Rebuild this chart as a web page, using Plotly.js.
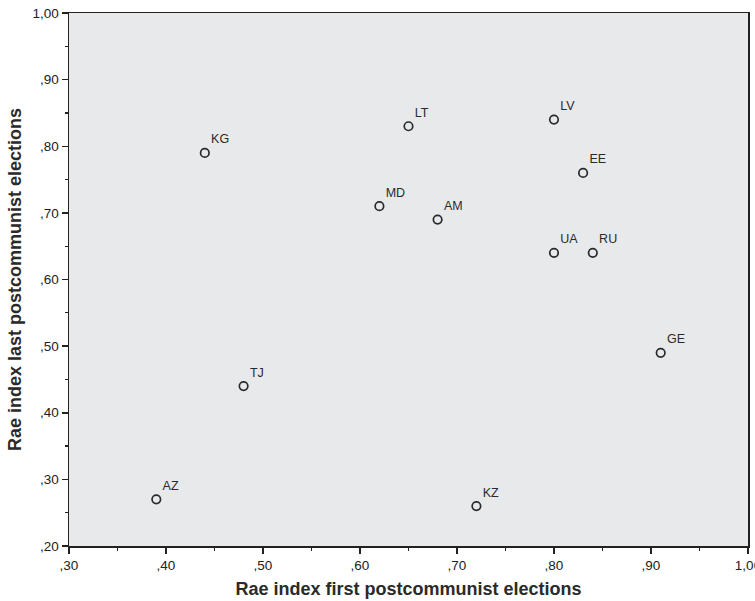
<!DOCTYPE html>
<html>
<head>
<meta charset="utf-8">
<script src="https://cdn.plot.ly/plotly-3.0.1.min.js"></script>
<style>html,body{margin:0;padding:0;background:#fff;}#chart{width:755px;height:601px;}</style>
</head>
<body>
<div id="chart"></div>
<script>
const countries = ["KG","LT","MD","AM","LV","EE","UA","RU","GE","TJ","AZ","KZ"];
const firstElections = [0.44,0.65,0.62,0.68,0.80,0.83,0.80,0.84,0.91,0.48,0.39,0.72];
const lastElections  = [0.79,0.83,0.71,0.69,0.84,0.76,0.64,0.64,0.49,0.44,0.27,0.26];
const xTickVals = [0.30,0.40,0.50,0.60,0.70,0.80,0.90,1.00];
const xTickText = [",30",",40",",50",",60",",70",",80",",90","1,00"];
const yTickVals = [0.20,0.30,0.40,0.50,0.60,0.70,0.80,0.90,1.00];
const yTickText = [",20",",30",",40",",50",",60",",70",",80",",90","1,00"];
const xMinor = [0.35,0.45,0.55,0.65,0.75,0.85,0.95];
const yMinor = [0.25,0.35,0.45,0.55,0.65,0.75,0.85,0.95];

const trace = {
  x: firstElections, y: lastElections, text: countries,
  type: "scatter", mode: "markers+text",
  textposition: "top right",
  textfont: {family: "Liberation Sans, Arial, sans-serif", size: 12.5, color: "#2a2a2a"},
  marker: {symbol: "circle-open", size: 8.5, color: "#2a2a2a", line: {width: 1.7, color: "#2a2a2a"}},
  cliponaxis: false,
  hoverinfo: "none"
};

const axisCommon = {
  showline: true, linecolor: "#222", linewidth: 1.5, mirror: true,
  ticks: "outside", ticklen: 6, tickwidth: 1.5, tickcolor: "#222",
  showgrid: false, zeroline: false, ticklabeloverflow: "allow",
  tickfont: {family: "Liberation Sans, Arial, sans-serif", size: 13.5, color: "#222"}
};

const layout = {
  width: 755, height: 601,
  margin: {l: 69, r: 7, t: 13, b: 55},
  paper_bgcolor: "#fff", plot_bgcolor: "#e8e9eb",
  showlegend: false,
  xaxis: Object.assign({}, axisCommon, {
    range: [0.30, 1.00], tickmode: "array", tickvals: xTickVals, ticktext: xTickText,
    minor: {tickmode: "array", tickvals: xMinor, ticks: "outside", ticklen: 3, tickcolor: "#222", tickwidth: 1.2, showgrid: false},
    title: {text: "<b>Rae index first postcommunist elections</b>", standoff: 10,
      font: {family: "Liberation Sans, Arial, sans-serif", size: 18, color: "#2a2a2a"}}
  }),
  yaxis: Object.assign({}, axisCommon, {
    range: [0.20, 1.00], tickmode: "array", tickvals: yTickVals, ticktext: yTickText,
    minor: {tickmode: "array", tickvals: yMinor, ticks: "outside", ticklen: 3, tickcolor: "#222", tickwidth: 1.2, showgrid: false},
    title: {text: "<b>Rae index last postcommunist elections</b>", standoff: 6,
      font: {family: "Liberation Sans, Arial, sans-serif", size: 18, color: "#2a2a2a"}}
  })
};

Plotly.newPlot("chart", [trace], layout, {displayModeBar: false, staticPlot: true});
</script>
</body>
</html>
